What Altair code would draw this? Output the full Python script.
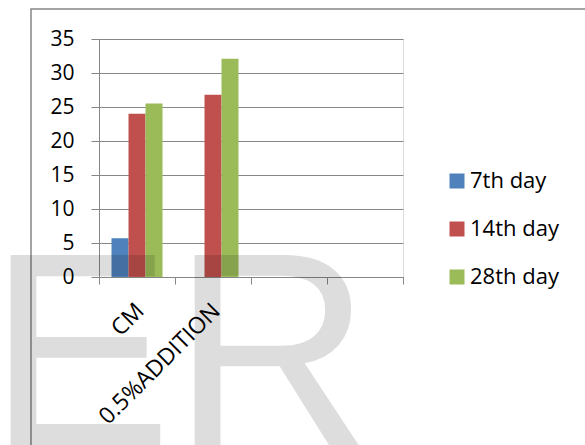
import altair as alt
import pandas as pd

categories = ["CM", "0.5%ADDITION", " ", "  "]
series = ["7th day", "14th day", "28th day"]
day7 = [5.7, 0]
day14 = [24.0, 26.8]
day28 = [25.5, 32.1]
colors = ["#4F81BD", "#C0504D", "#9BBB59"]
y_ticks = [0, 5, 10, 15, 20, 25, 30, 35]

rows = []
for i, cat in enumerate(categories[:2]):
    for s, vals in zip(series, [day7, day14, day28]):
        rows.append({"category": cat, "series": s, "value": vals[i]})
df = pd.DataFrame(rows)

FONT = "Open Sans"
GRAY = "#868686"

bars = alt.Chart(df).mark_bar().encode(
    x=alt.X(
        "category:N",
        sort=categories,
        scale=alt.Scale(domain=categories, paddingInner=0, paddingOuter=0),
        axis=alt.Axis(
            title=None,
            labelAngle=-45,
            labelAlign="right",
            labelBaseline="middle",
            labelFont=FONT,
            labelFontSize=23,
            labelColor="black",
            labelOffset=3,
            labelPadding=23,
            tickBand="extent",
            tickSize=7,
            tickColor=GRAY,
            domainColor=GRAY,
            grid=False,
        ),
    ),
    xOffset=alt.XOffset(
        "series:N",
        sort=series,
        scale=alt.Scale(domain=series, paddingInner=0, paddingOuter=0.735),
    ),
    y=alt.Y(
        "value:Q",
        scale=alt.Scale(domain=[0, 35], nice=False),
        axis=alt.Axis(
            title=None,
            values=y_ticks,
            labelFont=FONT,
            labelFontSize=21,
            labelColor="black",
            labelPadding=17,
            tickSize=8,
            tickColor=GRAY,
            domainColor=GRAY,
            gridColor=GRAY,
        ),
    ),
    color=alt.Color(
        "series:N",
        sort=series,
        scale=alt.Scale(domain=series, range=colors),
        legend=alt.Legend(
            title=None,
            orient="none",
            legendX=347,
            legendY=131,
            symbolType="square",
            symbolSize=225,
            symbolStrokeWidth=0,
            labelFont=FONT,
            labelFontSize=22,
            labelColor="black",
            labelOffset=2,
            rowPadding=26,
        ),
    ),
)

frame = alt.Chart(pd.DataFrame({"a": [0]})).mark_rect(
    filled=False, stroke=GRAY, strokeWidth=1.5
).encode(
    x=alt.value(-68), x2=alt.value(700), y=alt.value(-30), y2=alt.value(600)
)

watermark = alt.Chart(pd.DataFrame({"t": ["ER"]})).mark_text(
    font="Liberation Sans",
    fontSize=276,
    align="left",
    baseline="alphabetic",
    color="black",
    opacity=0.13,
).encode(text="t:N", x=alt.value(-111), y=alt.value(406))

chart = alt.layer(frame, bars, watermark).properties(
    width=304,
    height=238,
    autosize=alt.AutoSizeParams(type="none"),
    padding={"left": 99, "top": 39, "right": 182, "bottom": 168},
).configure_view(stroke=None).configure(background="white")

chart.save("out.html", embed_options={"renderer": "svg", "actions": False})
